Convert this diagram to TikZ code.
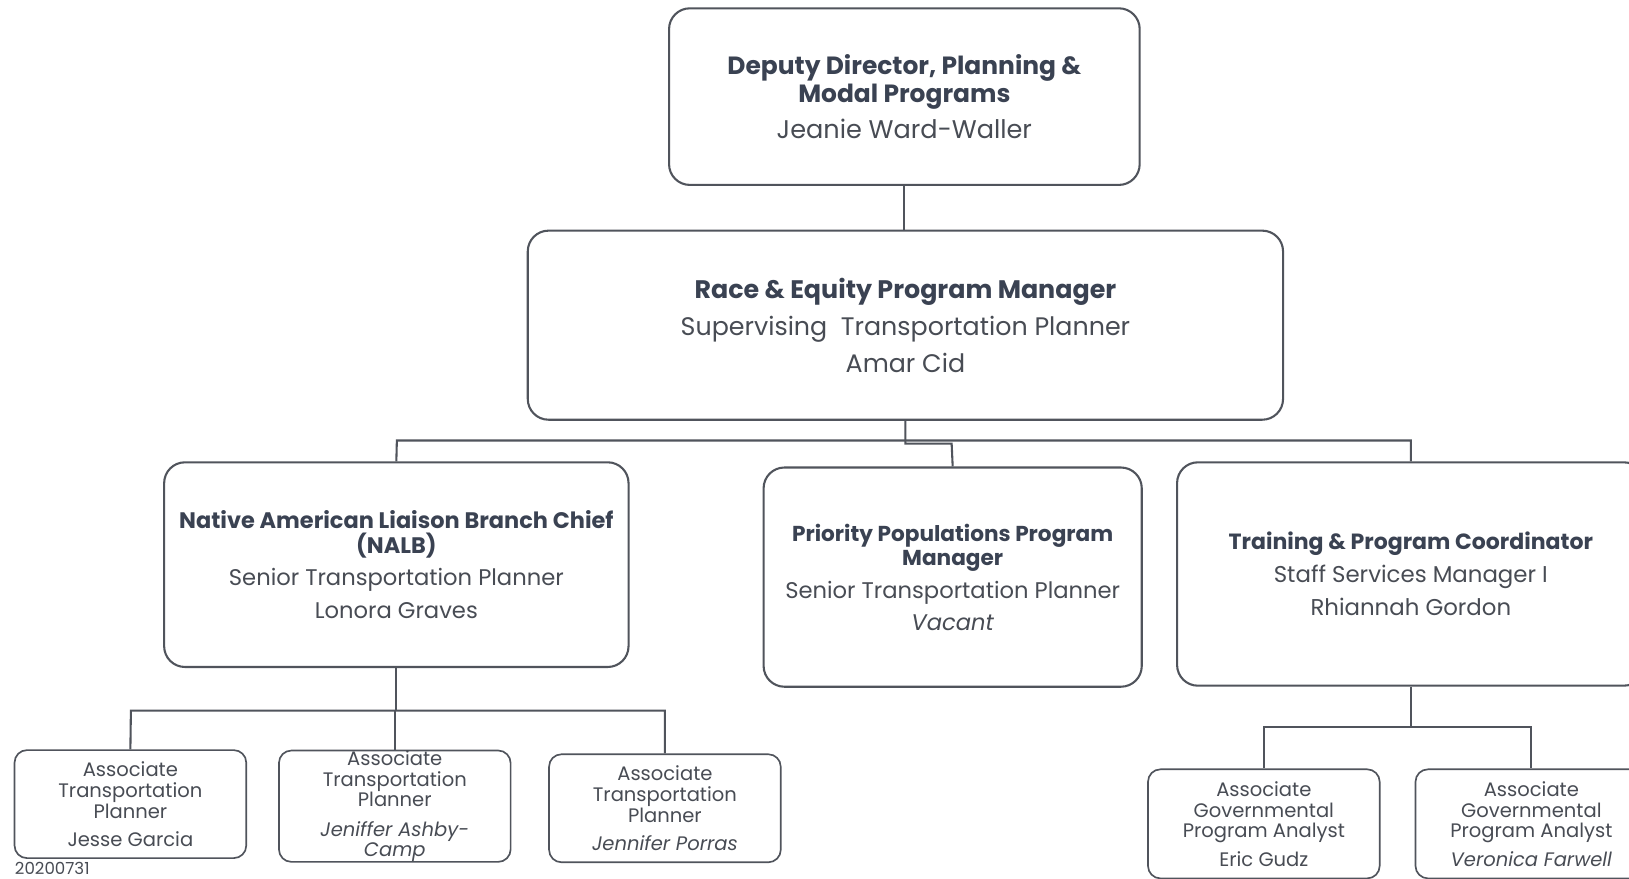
\documentclass[tikz,border=0pt]{standalone}
\usepackage{fontspec}
\setmainfont{Poppins}
\definecolor{txt}{RGB}{58,66,82}
\definecolor{sub}{RGB}{72,76,84}
\definecolor{ln}{RGB}{80,84,92}
\newcommand\myfb[1]{\fontsize{#1}{12}\selectfont\bfseries\color{txt}}
\newcommand\myfr[1]{\fontsize{#1}{12}\selectfont\mdseries\color{sub}}
\newcommand\myfit[1]{\fontsize{#1}{12}\selectfont\mdseries\itshape\color{sub}}
\newcommand\mysr{\fontsize{9.4}{10}\selectfont\mdseries\upshape\color{sub}}
\newcommand\mysi{\fontsize{9.4}{10}\selectfont\mdseries\itshape\color{sub}}
\begin{document}
\begin{tikzpicture}[x=0.5pt,y=-0.5pt,
  big/.style={draw=ln, line width=1pt, rounded corners=10pt, align=center, inner sep=0pt,
     font=\fontsize{10}{12}\selectfont},
  small/.style={draw=ln, line width=0.8pt, rounded corners=6pt, align=center, inner sep=0pt,
     minimum width=111.5pt, minimum height=52pt, font=\fontsize{9.4}{10}\selectfont},
  conn/.style={draw=ln, line width=1pt}]
\useasboundingbox[fill=white] (0,0) rectangle (1568,846);

\node[big, minimum width=226.5pt, minimum height=85pt] (dep) at (870.5,93)
  {\myfb{12}Deputy Director, Planning \&\\[0.5pt]\myfb{12}Modal Programs\\[3.5pt]\myfr{12.3}Jeanie Ward-Waller};
\node[big, minimum width=363.5pt, minimum height=91pt] (race) at (871.5,313)
  {\myfb{12.2}Race \& Equity Program Manager\\[4.2pt]\myfr{12.2}Supervising\ \ Transportation Planner\\[4.2pt]\myfr{12.2}Amar Cid};
\node[big, minimum width=223.5pt, minimum height=98.5pt] (nalb) at (381.5,543.5)
  {\myfb{10.8}Native American Liaison Branch Chief\\[0pt]\myfb{10.8}(NALB)\\[3.5pt]\myfr{10.9}Senior Transportation Planner\\[4pt]\myfr{10.9}Lonora Graves};
\node[big, minimum width=182pt, minimum height=105.5pt] (pri) at (917,555.5)
  {\myfb{10.4}Priority Populations Program\\[0pt]\myfb{10.4}Manager\\[3.5pt]\myfr{10.9}Senior Transportation Planner\\[3.5pt]\myfit{10.9}Vacant};
\node[big, minimum width=225pt, minimum height=107.5pt] (tr) at (1358,552.5)
  {\myfb{10.6}Training \& Program Coordinator\\[4pt]\myfr{11}Staff Services Manager I\\[4pt]\myfr{11}Rhiannah Gordon};

\node[small] (a1) at (125.5,774)
  {\mysr Associate\\\mysr Transportation\\\mysr Planner\\[3.5pt]\mysr Jesse Garcia};
\node[small] (a2) at (380,776)
  {\mysr Associate\\\mysr Transportation\\\mysr Planner\\[4pt]\mysi Jeniffer Ashby-\\\mysi Camp};
\node[small] (a3) at (640,778)
  {\mysr Associate\\\mysr Transportation\\\mysr Planner\\[3.5pt]\mysi Jennifer Porras};
\node[small, minimum height=52.5pt] (a4) at (1216.5,793)
  {\mysr Associate\\\mysr Governmental\\\mysr Program Analyst\\[3.5pt]\mysr Eric Gudz};
\node[small, minimum height=52.5pt] (a5) at (1474,793)
  {\mysr Associate\\\mysr Governmental\\\mysr Program Analyst\\[3.5pt]\mysi Veronica Farwell};

\node[anchor=west, inner sep=0pt, text=sub, font=\fontsize{8}{8}\selectfont] (date) at (14,836) {20200731};

% connectors
\draw[conn] (dep.south) -- (dep.south |- race.north);
\coordinate (busL) at (382,424);
\coordinate (busR) at (1358,424);
\coordinate (jog) at (916,427);
\draw[conn] (nalb.north) -- (busL) -- (busR) -- (tr.north);
\draw[conn] (race.south) |- (jog) -- (pri.north);

\coordinate (nL) at (126,684);
\coordinate (nR) at (640,684);
\draw[conn] (nalb.south) -- (nalb.south |- nL);
\draw[conn] (a1.north) -- (nL) -- (nR) -- (a3.north);
\draw[conn] (a2.north) -- (a2.north |- nL);

\coordinate (tL) at (1216.5,700);
\coordinate (tR) at (1474,700);
\draw[conn] (tr.south) -- (tr.south |- tL);
\draw[conn] (a4.north) -- (tL) -- (tR) -- (a5.north);
\end{tikzpicture}
\end{document}
